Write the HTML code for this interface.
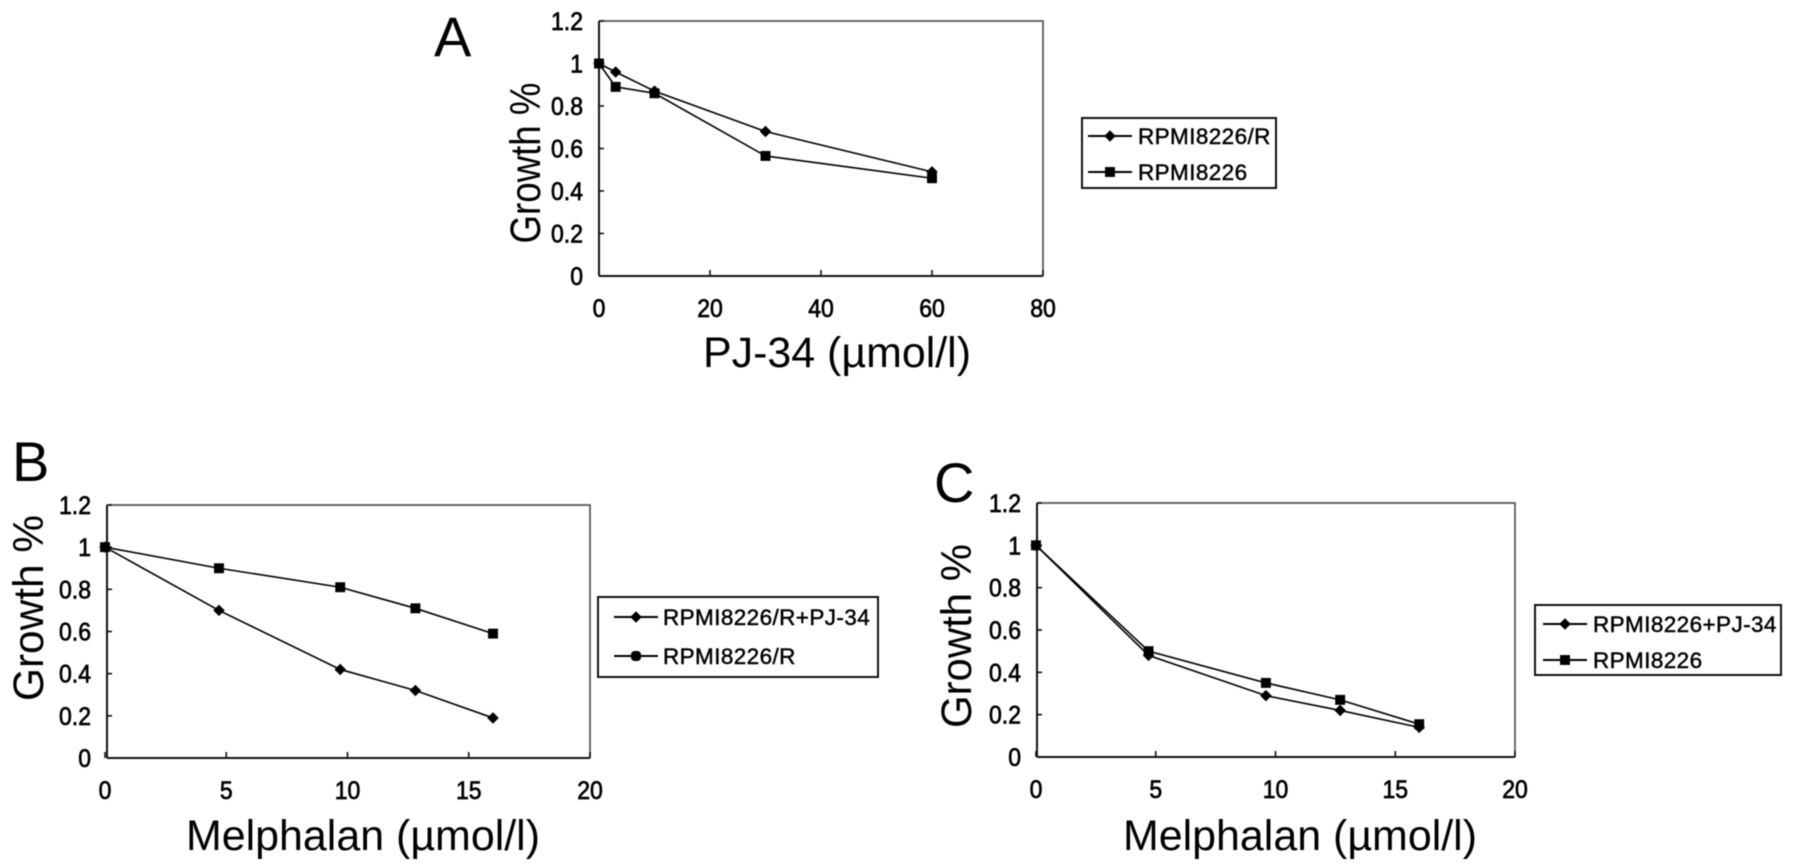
<!DOCTYPE html>
<html lang="en">
<head>
<meta charset="utf-8">
<title>Growth curves</title>
<style>
html,body{margin:0;padding:0;background:#fff;width:1795px;height:868px;overflow:hidden}
svg{display:block;filter:blur(.4px)}
text{font-family:"Liberation Sans",sans-serif;fill:#000}
.tick{font-size:25px;stroke:#000;stroke-width:.7px}
.leg{font-size:22.5px;stroke:#000;stroke-width:.45px;letter-spacing:.4px}
.title{font-size:43px}
.letter{font-size:56px}
</style>
</head>
<body>
<svg id="figure" xmlns="http://www.w3.org/2000/svg" width="1795" height="868" viewBox="0 0 1795 868"></svg>
<script>
// Panel A data
const aDoses = [0, 3, 10, 30, 60];
const aResistant = [1, 0.96, 0.87, 0.68, 0.49];
const aSensitive = [1, 0.89, 0.86, 0.565, 0.46];
const aXTicks = [0, 20, 40, 60, 80];
// Panel B data
const bDoses = [0, 4.7, 9.7, 12.8, 16];
const bResistantPJ = [1, 0.7, 0.42, 0.32, 0.19];
const bResistant = [1, 0.9, 0.81, 0.71, 0.59];
// Panel C data
const cDoses = [0, 4.7, 9.6, 12.7, 16];
const cSensitivePJ = [1, 0.48, 0.29, 0.22, 0.14];
const cSensitive = [1, 0.5, 0.35, 0.27, 0.155];
// Shared ticks
const melphalanXTicks = [0, 5, 10, 15, 20];
const yTicks = [0, 0.2, 0.4, 0.6, 0.8, 1, 1.2];

const NS = 'http://www.w3.org/2000/svg';
const root = document.getElementById('figure');

function make(tag, attrs, parent, content) {
  const el = document.createElementNS(NS, tag);
  for (const k in attrs) el.setAttribute(k, attrs[k]);
  if (content !== undefined) el.textContent = content;
  parent.appendChild(el);
  return el;
}

function narrow(t) {
  t.setAttribute('textLength', t.getComputedTextLength() * 0.92);
  t.setAttribute('lengthAdjust', 'spacingAndGlyphs');
}

function marker(kind, x, y, parent, size) {
  let el;
  if (kind === 'diamond') {
    const d = size * 0.72;
    el = make('polygon', {points: (x) + ',' + (y - d) + ' ' + (x + d) + ',' + y + ' ' + (x) + ',' + (y + d) + ' ' + (x - d) + ',' + y, fill: '#000'}, parent);
  } else {
    const s = size * 0.62;
    el = make('rect', {x: x - s, y: y - s, width: 2 * s, height: 2 * s, fill: '#000', rx: kind === 'round' ? s * 0.7 : 0}, parent);
  }
  return el;
}

function drawPanel(p) {
  const g = make('g', {}, root);
  
  

  const sx = v => p.x0 + (v / p.xMax) * (p.x1 - p.x0);
  const sy = v => p.bottom - (v / 1.2) * (p.bottom - p.top);

  const letter = make('text', {x: p.letterX, y: p.letterY, class: 'letter'}, g, p.id);
  
  

  const frameTop = make('path', {d: 'M' + p.left + ' ' + p.top + 'H' + p.right + 'V' + p.bottom, fill: 'none', stroke: '#555', 'stroke-width': 1.7}, g);
  
  
  const axisY = make('line', {x1: p.left, x2: p.left, y1: p.top, y2: p.bottom, stroke: '#111', 'stroke-width': 2}, g);
  
  
  const axisX = make('line', {x1: p.left, x2: p.right, y1: p.bottom, y2: p.bottom, stroke: '#111', 'stroke-width': 2}, g);
  
  

  yTicks.forEach(v => {
    make('line', {x1: p.left, x2: p.left + 5, y1: sy(v), y2: sy(v), stroke: '#111', 'stroke-width': 1.6}, g);
    const t = make('text', {x: p.left - 16, y: sy(v) + 9, 'text-anchor': 'end', class: 'tick'}, g, String(v));
    
    
    narrow(t);
  });
  p.xTicks.forEach(v => {
    make('line', {x1: sx(v), x2: sx(v), y1: p.bottom, y2: p.bottom - 6, stroke: '#111', 'stroke-width': 1.6}, g);
    const t = make('text', {x: sx(v), y: p.bottom + 41, 'text-anchor': 'middle', class: 'tick'}, g, String(v));
    
    
    narrow(t);
  });

  const xt = make('text', {x: p.xTitleX, y: p.xTitleY, 'text-anchor': 'middle', class: 'title', textLength: p.xTitleLen, lengthAdjust: 'spacingAndGlyphs'}, g, p.xTitle);
  
  
  const yt = make('text', {transform: 'translate(' + p.yTitleX + ' ' + p.yTitleY + ') rotate(-90)', 'text-anchor': 'middle', class: 'title', textLength: p.yTitleLen, lengthAdjust: 'spacingAndGlyphs'}, g, 'Growth %');
  
  

  p.series.forEach(s => {
    const sg = make('g', {}, g);
    
    
    const pts = p.doses.map((d, i) => sx(d) + ',' + sy(s.values[i])).join(' ');
    const line = make('polyline', {points: pts, fill: 'none', stroke: '#000', 'stroke-width': 1.6}, sg);
    
    
    p.doses.forEach((d, i) => {
      const m = marker(s.kind, sx(d), sy(s.values[i]), sg, 8);
      
      
    });
  });

  const lg = make('g', {}, g);
  
  
  make('rect', {x: p.lx0, y: p.ly0, width: p.lx1 - p.lx0, height: p.ly1 - p.ly0, fill: '#fff', stroke: '#111', 'stroke-width': 2}, lg);
  p.series.forEach((s, i) => {
    const y = p.legendRows[i];
    make('line', {x1: p.lineX, x2: p.lineX + 44, y1: y, y2: y, stroke: '#000', 'stroke-width': 2}, lg);
    marker(s.legendKind || s.kind, p.lineX + 22, y, lg, 8);
    const t = make('text', {x: p.textX, y: y + 8, class: 'leg'}, lg, s.label);
    
    
  });
}

drawPanel({
  id: 'A', letterX: 434, letterY: 56,
  left: 599, right: 1043, top: 21, bottom: 276,
  x0: 599, x1: 1043, xMax: 80, xTicks: aXTicks, doses: aDoses,
  xTitle: 'PJ-34 (µmol/l)', xTitleX: 837, xTitleY: 367, xTitleLen: 268,
  yTitleX: 540, yTitleY: 163, yTitleLen: 161,
  series: [
    {name: 'rpmi8226-r', label: 'RPMI8226/R', kind: 'diamond', values: aResistant},
    {name: 'rpmi8226', label: 'RPMI8226', kind: 'square', values: aSensitive}
  ],
  lx0: 1082, lx1: 1276, ly0: 118, ly1: 188, lineX: 1088, textX: 1138, legendRows: [136, 172]
});

drawPanel({
  id: 'B', letterX: 12, letterY: 481,
  left: 107, right: 590, top: 505, bottom: 758,
  x0: 105, x1: 590, xMax: 20, xTicks: melphalanXTicks, doses: bDoses,
  xTitle: 'Melphalan (µmol/l)', xTitleX: 363, xTitleY: 850, xTitleLen: 354,
  yTitleX: 43, yTitleY: 608, yTitleLen: 186,
  series: [
    {name: 'rpmi8226-r-pj34', label: 'RPMI8226/R+PJ-34', kind: 'diamond', values: bResistantPJ},
    {name: 'rpmi8226-r', label: 'RPMI8226/R', kind: 'square', legendKind: 'round', values: bResistant}
  ],
  lx0: 598, lx1: 878, ly0: 597, ly1: 677, lineX: 614, textX: 663, legendRows: [617, 656]
});

drawPanel({
  id: 'C', letterX: 934, letterY: 502,
  left: 1037, right: 1515, top: 503, bottom: 757,
  x0: 1036, x1: 1515, xMax: 20, xTicks: melphalanXTicks, doses: cDoses,
  xTitle: 'Melphalan (µmol/l)', xTitleX: 1300, xTitleY: 850, xTitleLen: 354,
  yTitleX: 971, yTitleY: 636, yTitleLen: 184,
  series: [
    {name: 'rpmi8226-pj34', label: 'RPMI8226+PJ-34', kind: 'diamond', values: cSensitivePJ},
    {name: 'rpmi8226', label: 'RPMI8226', kind: 'square', values: cSensitive}
  ],
  lx0: 1535, lx1: 1781, ly0: 605, ly1: 675, lineX: 1543, textX: 1593, legendRows: [624, 660]
});
</script>
</body>
</html>
